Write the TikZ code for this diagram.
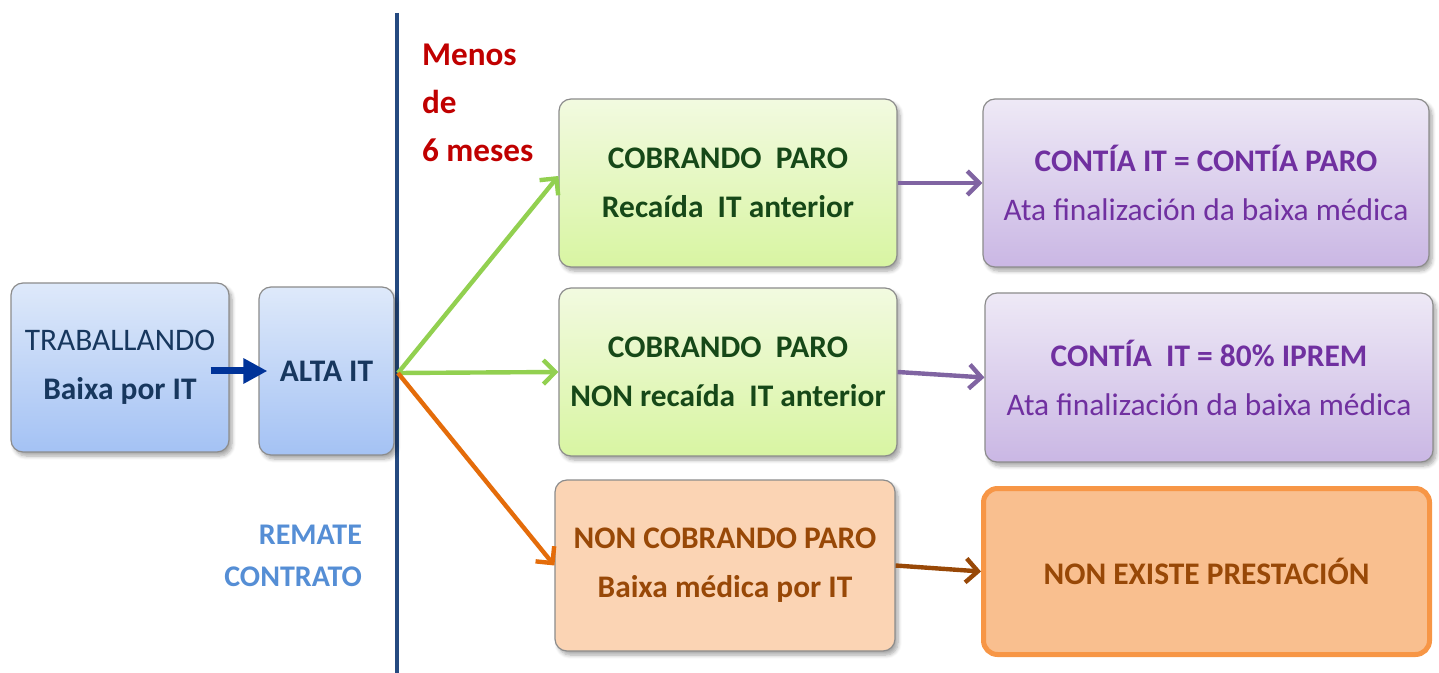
\documentclass[tikz,border=0pt]{standalone}
\usepackage{fontspec}
\setmainfont{Carlito}
\usetikzlibrary{arrows.meta,shadows.blur}
\definecolor{navytext}{RGB}{23,55,94}
\definecolor{greentext}{RGB}{22,72,24}
\definecolor{purpletext}{RGB}{112,48,160}
\definecolor{browntext}{RGB}{152,72,7}
\definecolor{barblue}{RGB}{37,74,128}
\definecolor{monthred}{RGB}{192,0,0}
\definecolor{endblue}{RGB}{85,142,213}
\definecolor{arrowgreen}{RGB}{146,208,80}
\definecolor{arroworange}{RGB}{228,108,10}
\definecolor{arrowpurple}{RGB}{128,100,162}
\definecolor{arrowblue}{RGB}{0,51,153}
\begin{document}
\begin{tikzpicture}[x=0.5pt, y=-0.5pt, >={Straight Barb[length=6pt,width=12pt]},
		box/.style={rounded corners=6pt, draw=black!45, line width=0.6pt, inner sep=0pt, align=center,
			font=\fontsize{15.7}{24.5}\selectfont,
			blur shadow={shadow xshift=1.5pt, shadow yshift=-2pt, shadow blur steps=6, shadow opacity=35}},
		bluebox/.style={box, top color={rgb,255:red,222;green,233;blue,250}, bottom color={rgb,255:red,164;green,194;blue,244}, text=navytext},
		greenbox/.style={box, minimum width=169pt, minimum height=84pt, top color={rgb,255:red,242;green,250;blue,224}, bottom color={rgb,255:red,216;green,245;blue,162}, text=greentext, font=\fontsize{15.7}{24.5}\selectfont\bfseries},
		purplebox/.style={box, minimum width=223pt, minimum height=84pt, top color={rgb,255:red,238;green,233;blue,246}, bottom color={rgb,255:red,202;green,183;blue,228}, text=purpletext},
		link/.style={->, line width=2.2pt}]
	\useasboundingbox (0,0) rectangle (1439,673);

	\coordinate (bartop) at (397,13);
	\coordinate (barbot) at (397,673);
	\coordinate (split) at (398,373);
	\draw[barblue, line width=2.3pt] (bartop) -- (barbot);

	\node[bluebox, minimum width=109pt, minimum height=84.5pt] (trab) at (120,367.5) {TRABALLANDO\\\textbf{Baixa por IT}};
	\node[bluebox, minimum width=67.5pt, minimum height=84pt, font=\fontsize{15.7}{24.5}\selectfont\bfseries] (alta) at (326.5,371) {ALTA IT};

	\node[greenbox] (cob1) at (728,183) {COBRANDO\ \ PARO\\Recaída\ \ IT anterior};
	\node[greenbox] (cob2) at (728,372) {COBRANDO\ \ PARO\\NON recaída\ \ IT anterior};
	\node[box, minimum width=170pt, minimum height=85.5pt, fill={rgb,255:red,251;green,212;blue,180}, text=browntext, font=\fontsize{15.7}{24.5}\selectfont\bfseries] (noncob) at (725,565.5) {NON COBRANDO PARO\\Baixa médica por IT};

	\node[purplebox] (contia1) at (1206,183) {\textbf{CONTÍA IT = CONTÍA PARO}\\Ata finalización da baixa médica};
	\node[purplebox, minimum width=224pt, minimum height=84.5pt] (contia2) at (1209,377.5) {\textbf{CONTÍA\ \ IT = 80\% IPREM}\\Ata finalización da baixa médica};
	\node[rounded corners=7pt, draw={rgb,255:red,247;green,150;blue,70}, line width=2.5pt, fill={rgb,255:red,249;green,191;blue,143}, inner sep=0pt, minimum width=223pt, minimum height=83pt, text=browntext, font=\fontsize{15.7}{24.5}\selectfont\bfseries] (nonex) at (1206.5,571.5) {NON EXISTE PRESTACIÓN};

	\node[monthred, anchor=west, align=left, font=\fontsize{16.6}{24}\selectfont\bfseries] (menos) at (415,103) {Menos\\de\\6 meses};
	\node[endblue, anchor=east, align=right, font=\fontsize{15}{21}\selectfont\bfseries] (remate) at (369,556) {REMATE\\CONTRATO};

	\draw[arrowblue, line width=3.5pt, -{Triangle[length=12pt,width=12pt]}, shorten <=-9.5pt, shorten >=-4.5pt] (trab.east |- alta.west) -- (alta.west);
	\draw[link, arrowgreen] (split) -- ([yshift=3.5pt]cob1.west);
	\draw[link, arrowgreen] (split) -- (cob2.west);
	\draw[link, arroworange] (split) -- (noncob.west);
	\draw[link, arrowpurple] (cob1.east) -- (contia1.west);
	\draw[link, arrowpurple] (cob2.east) -- (contia2.west);
	\draw[link, browntext] (noncob.east) -- (nonex.west);
\end{tikzpicture}
\end{document}
